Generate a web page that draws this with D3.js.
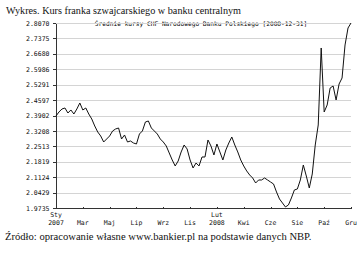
<!DOCTYPE html>
<html>
<head>
<meta charset="utf-8">
<script src="https://cdn.jsdelivr.net/npm/d3@7"></script>
<style>
  body { margin: 0; background: #fff; }
  .axis path, .axis line { stroke: #333; shape-rendering: crispEdges; }
  .axis text { font-family: "DejaVu Sans Mono", monospace; font-size: 6.5px; fill: #111; }
  .grid line { stroke: #d4d4d4; shape-rendering: crispEdges; }
</style>
</head>
<body>
<div id="chart"></div>
<script>
// y axis ticks (as printed on the chart)
let yTicks = [1.9735, 2.0429, 2.1124, 2.1819, 2.2513, 2.3208, 2.3902, 2.4597, 2.5291, 2.5986, 2.6680, 2.7375, 2.8070];

// x axis tick labels (month row, year row)
let tickMonths = ["Sty", "Mar", "Maj", "Lip", "Wrz", "Lis", "Lut", "Kwi", "Cze", "Sie", "Paź", "Gru"];
let tickYears  = ["2007", "", "", "", "", "", "2008", "", "", "", "", ""];

// CHF/PLN average NBP rate, 2007-01 .. 2008-12-31
let rates = [
  2.3880, 2.4061, 2.4196, 2.4241, 2.4015, 2.4151, 2.3970, 2.4196, 2.4466, 2.4151,
  2.4241, 2.3970, 2.3745, 2.3430, 2.3160, 2.2979, 2.2709, 2.2844, 2.2979, 2.3205,
  2.3295, 2.3340, 2.2844, 2.3024, 2.2709, 2.2754, 2.2664, 2.2619, 2.3069, 2.3205,
  2.3610, 2.3655, 2.3340, 2.3205, 2.3069, 2.2844, 2.2709, 2.2529, 2.2213, 2.1898,
  2.1628, 2.1853, 2.2259, 2.2574, 2.2394, 2.1898, 2.1538, 2.1763, 2.1628, 2.2033,
  2.2033, 2.2799, 2.2529, 2.2123, 2.2619, 2.2259, 2.1898, 2.2349, 2.2664, 2.2934,
  2.2574, 2.2259, 2.1898, 2.1628, 2.1403, 2.1222, 2.1087, 2.0862, 2.0997, 2.0997,
  2.1087, 2.0997, 2.0907, 2.0817, 2.0457, 2.0141, 1.9961, 1.9781, 1.9871, 2.0186,
  2.0547, 2.0592, 2.0997, 2.1673, 2.1177, 2.0637, 2.1267, 2.2574, 2.3475, 2.6944,
  2.4061, 2.4376, 2.5142, 2.5232, 2.4601, 2.5322, 2.5592, 2.7079, 2.7845, 2.8070
];

let W = 360, H = 253;
let plot = {left: 55, right: 351, top: 23, bottom: 208};

let svg = d3.select("#chart").append("svg")
    .attr("width", W)
    .attr("height", H);

// titles
svg.append("text")
    .attr("x", 6).attr("y", 14)
    .attr("font-family", "Liberation Serif, Times New Roman, serif")
    .attr("font-size", 10.2)
    .attr("fill", "#111")
    .text("Wykres. Kurs franka szwajcarskiego  w banku centralnym");

svg.append("text")
    .attr("x", 201).attr("y", 26)
    .attr("text-anchor", "middle")
    .attr("font-family", "DejaVu Sans Mono, monospace")
    .attr("font-size", 6.2)
    .attr("fill", "#000")
    .text("Średnie kursy CHF Narodowego Banku Polskiego [2008-12-31]");

svg.append("text")
    .attr("x", 5).attr("y", 240)
    .attr("font-family", "Liberation Serif, Times New Roman, serif")
    .attr("font-size", 10.6)
    .attr("fill", "#111")
    .text("Źródło: opracowanie własne www.bankier.pl na podstawie danych NBP.");

// scales
let x = d3.scaleLinear()
    .domain([0, rates.length - 1])
    .range([plot.left + 1, plot.right]);

let y = d3.scaleLinear()
    .domain([yTicks[0], yTicks[yTicks.length - 1]])
    .range([plot.bottom, plot.top]);

let xTickVals = tickMonths.map((m, i) => i * (rates.length - 1) / (tickMonths.length - 1));

// grid
svg.append("g")
    .attr("class", "grid")
    .selectAll("line")
    .data(yTicks.slice(1))
    .enter().append("line")
    .attr("x1", plot.left)
    .attr("x2", plot.right)
    .attr("y1", d => Math.round(y(d)) + 0.5)
    .attr("y2", d => Math.round(y(d)) + 0.5);

// axes
let yAxis = d3.axisLeft(y)
    .tickValues(yTicks)
    .tickFormat(d3.format(".4f"))
    .tickSize(3)
    .tickPadding(3)
    .tickSizeOuter(0);

svg.append("g")
    .attr("class", "y-axis axis")
    .attr("transform", "translate(" + (plot.left + 0.5) + ",0)")
    .call(yAxis);

let xAxis = d3.axisBottom(x)
    .tickValues(xTickVals)
    .tickFormat("")
    .tickSize(-2)
    .tickSizeOuter(0);

let xAxisGroup = svg.append("g")
    .attr("class", "x-axis axis")
    .attr("transform", "translate(0," + (plot.bottom + 0.5) + ")")
    .call(xAxis);

xAxisGroup.select(".domain").attr("d", "M" + (plot.left + 0.5) + ",0H" + plot.right);

// two-row month / year labels
let labels = svg.append("g")
    .attr("font-family", "DejaVu Sans Mono, monospace")
    .attr("font-size", 6.5)
    .attr("fill", "#111")
    .attr("text-anchor", "middle");

xTickVals.forEach((v, i) => {
    let hasYear = tickYears[i] !== "";
    labels.append("text")
        .attr("x", x(v))
        .attr("y", hasYear ? 217 : 225)
        .text(tickMonths[i]);
    if (hasYear) {
        labels.append("text")
            .attr("x", x(v))
            .attr("y", 225)
            .text(tickYears[i]);
    }
});

// line
let line = d3.line()
    .x((d, i) => x(i))
    .y(d => y(d));

svg.append("path")
    .datum(rates)
    .attr("fill", "none")
    .attr("stroke", "#111")
    .attr("stroke-width", 1)
    .attr("d", line);
</script>
</body>
</html>
